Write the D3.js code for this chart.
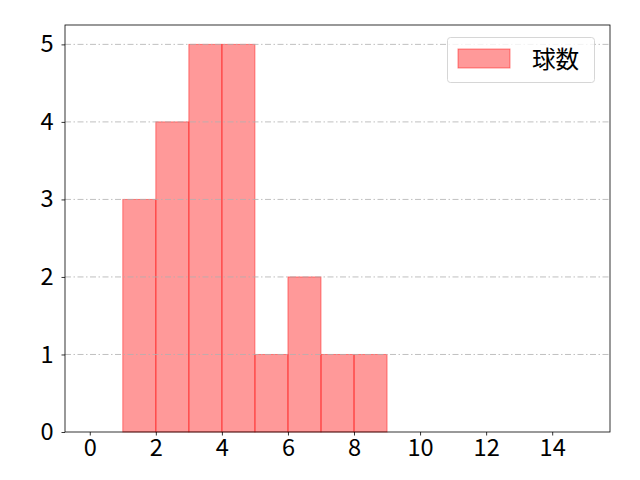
<!DOCTYPE html>
<html><head><meta charset="utf-8">
<script src="https://cdn.jsdelivr.net/npm/d3@7"></script>
<style>body{margin:0;background:#fff}svg{display:block}text{font-family:"Noto Sans CJK JP","Noto Sans",sans-serif}</style>
</head><body>
<script>
const binStarts = [1,2,3,4,5,6,7,8];
const counts = [3,4,5,5,1,2,1,1];
const xTicks = [0,2,4,6,8,10,12,14];
const yTicks = [0,1,2,3,4,5];
const seriesName = "球数";

const W=640,H=480, L=65, R=610, T=25, B=432;
const FS=23.6;
const svg=d3.select("body").append("svg").attr("width",W).attr("height",H);
const x=d3.scaleLinear().domain([-0.75,15.75]).range([L,R]);
const y=d3.scaleLinear().domain([0,5.25]).range([B,T]);

// bars
svg.append("g").selectAll("rect").data(binStarts.map((s,i)=>({s,c:counts[i]}))).join("rect")
 .attr("x",d=>x(d.s)).attr("width",d=>x(d.s+1)-x(d.s))
 .attr("y",d=>y(d.c)).attr("height",d=>y(0)-y(d.c))
 .attr("fill","rgba(255,0,0,0.4)").attr("stroke","rgba(255,0,0,0.45)").attr("stroke-width",1);

// grid
svg.append("g").selectAll("line").data(yTicks.slice(1)).join("line")
 .attr("x1",L).attr("x2",R).attr("y1",d=>y(d)).attr("y2",d=>y(d))
 .attr("stroke","#b0b0b0").attr("stroke-width",0.8).attr("stroke-dasharray","6,2.5,1.5,2.5");

// axes
const xa=svg.append("g").attr("transform",`translate(0,${B})`).call(d3.axisBottom(x).tickValues(xTicks).tickSize(3.5).tickPadding(4).tickFormat(d3.format("d")));
const ya=svg.append("g").attr("transform",`translate(${L},0)`).call(d3.axisLeft(y).tickValues(yTicks).tickSize(3.5).tickPadding(8).tickFormat(d3.format("d")));
[xa,ya].forEach(a=>{a.select(".domain").remove();a.selectAll("text").attr("font-size",FS).attr("fill","#000").style("font-family","'Noto Sans CJK JP',sans-serif");a.selectAll("line").attr("stroke","#000").attr("stroke-width",0.8);});
svg.append("rect").attr("x",L).attr("y",T).attr("width",R-L).attr("height",B-T).attr("fill","none").attr("stroke","#000").attr("stroke-width",0.8);

// legend
const lg=svg.append("g");
lg.append("rect").attr("x",447.5).attr("y",37.5).attr("width",147).attr("height",45).attr("rx",3)
 .attr("fill","rgba(255,255,255,0.8)").attr("stroke","#cccccc").attr("stroke-width",0.8);
lg.append("rect").attr("x",458).attr("y",49).attr("width",52).attr("height",19)
 .attr("fill","rgba(255,0,0,0.4)").attr("stroke","rgba(255,0,0,0.45)").attr("stroke-width",1);
lg.append("text").attr("x",532).attr("y",68).attr("font-size",FS).attr("fill","#000").text(seriesName);
</script>
</body></html>
